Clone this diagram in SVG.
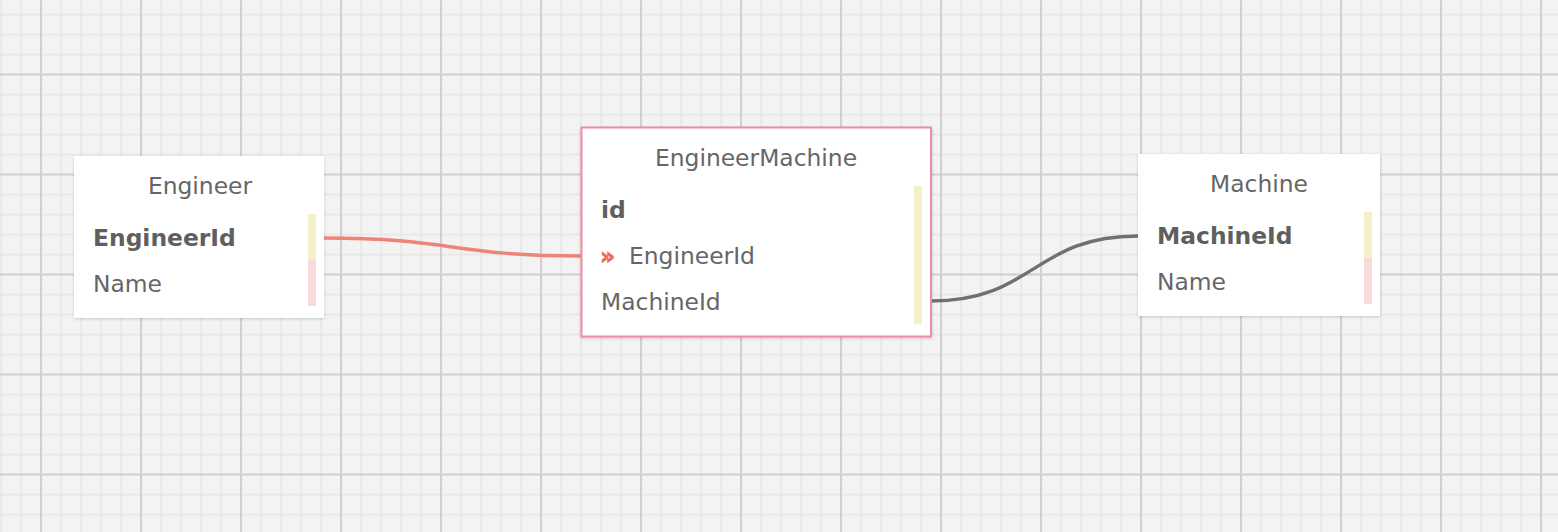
<svg xmlns="http://www.w3.org/2000/svg" width="1558" height="532" viewBox="0 0 1558 532">
  <defs>
    <pattern id="gridMinor" patternUnits="userSpaceOnUse" x="0.2" y="13.7" width="20" height="20">
      <rect x="0" y="0" width="1.6" height="20" fill="#e6e6e6"/>
      <rect x="0" y="0" width="20" height="1.6" fill="#e6e6e6"/>
    </pattern>
    <pattern id="gridMajor" patternUnits="userSpaceOnUse" x="40" y="73.5" width="100" height="100">
      <rect x="0" y="0" width="2" height="100" fill="#d0d0d0"/>
      <rect x="0" y="0" width="100" height="2" fill="#d0d0d0"/>
    </pattern>
    <filter id="shadow" x="-10%" y="-10%" width="120%" height="125%">
      <feDropShadow dx="0" dy="1" stdDeviation="1.5" flood-color="#000" flood-opacity="0.18"/>
    </filter>
  </defs>
  <style>
    .box { fill: #ffffff; filter: url(#shadow); }
    .title { font-family: "DejaVu Sans", Verdana, sans-serif; font-size: 23.4px; fill: #666666; text-anchor: middle; }
    .field { font-family: "DejaVu Sans", Verdana, sans-serif; font-size: 23.4px; fill: #666666; }
    .pk { font-weight: bold; fill: #5f5f5f; }
    .fk { font-family: "DejaVu Sans", Verdana, sans-serif; font-size: 23.4px; font-weight: bold; fill: #ee6a5c; stroke: #ee6a5c; stroke-width: 0.8; }
    .barKey { fill: #f4f1c9; }
    .barPlain { fill: #f9dada; }
    .link { fill: none; stroke-width: 3.4; stroke-linecap: round; }
  </style>

  <!-- background grid -->
  <rect x="0" y="0" width="1558" height="532" fill="#f3f3f3"/>
  <rect x="0" y="0" width="1558" height="532" fill="url(#gridMinor)"/>
  <rect x="0" y="0" width="1558" height="532" fill="url(#gridMajor)"/>

  <!-- relationships -->
  <g id="connectors">
    <path class="link" stroke="#ee8478" d="M324,238 C452,238 452,256 581,256"/>
    <path class="link" stroke="#707070" d="M931,301 C1034,301 1034,236 1138,236"/>
  </g>

  <!-- Engineer table -->
  <g id="engineer">
    <rect class="box" x="74" y="156" width="250" height="162"/>
    <text class="title" x="200" y="194">Engineer</text>
    <text class="field pk" x="93" y="246">EngineerId</text>
    <text class="field" x="93" y="292">Name</text>
    <rect class="barKey" x="308" y="214" width="8" height="46"/>
    <rect class="barPlain" x="308" y="260" width="8" height="46"/>
  </g>

  <!-- EngineerMachine join table -->
  <g id="engineer-machine">
    <rect class="box" x="581.5" y="127.5" width="349.5" height="209" stroke="#f08aa6" stroke-width="2"/>
    <text class="title" x="756" y="166">EngineerMachine</text>
    <text class="field pk" x="601" y="218">id</text>
    <text class="fk" x="600" y="264">»</text>
    <text class="field" x="629" y="264">EngineerId</text>
    <text class="field" x="601" y="309.5">MachineId</text>
    <rect class="barKey" x="914" y="186" width="8" height="138"/>
  </g>

  <!-- Machine table -->
  <g id="machine">
    <rect class="box" x="1138" y="154" width="242" height="162"/>
    <text class="title" x="1259" y="192">Machine</text>
    <text class="field pk" x="1157" y="244">MachineId</text>
    <text class="field" x="1157" y="289.5">Name</text>
    <rect class="barKey" x="1364" y="212" width="8" height="46"/>
    <rect class="barPlain" x="1364" y="258" width="8" height="46"/>
  </g>
</svg>
